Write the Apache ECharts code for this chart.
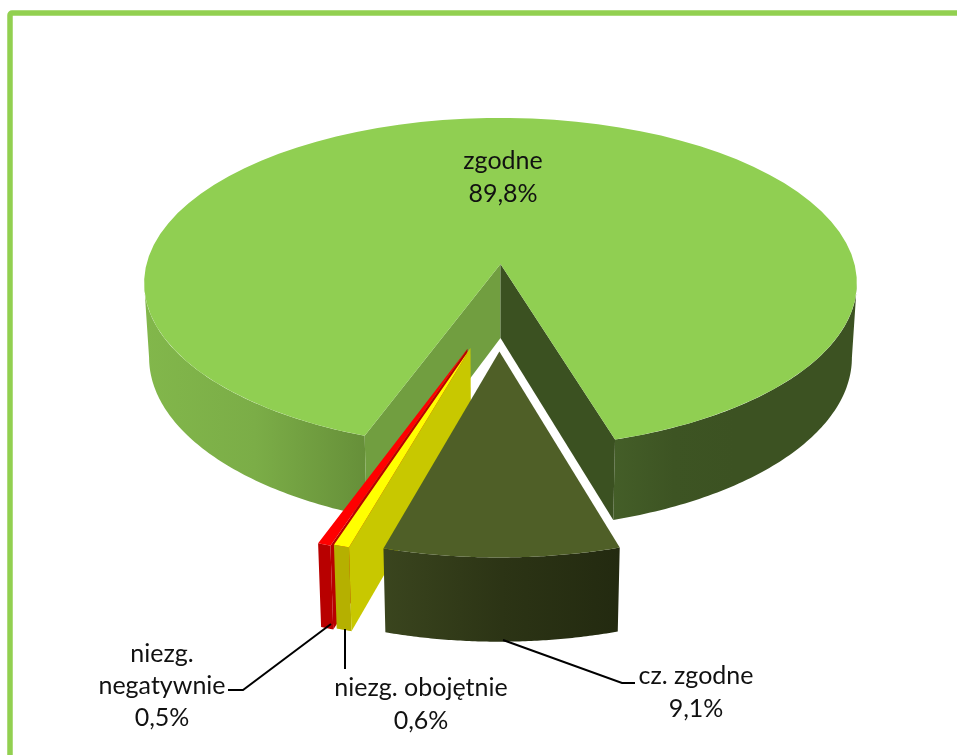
<!DOCTYPE html>
<html>
<head>
<meta charset="utf-8">
<title>zgodne</title>
<style>
html, body { margin: 0; padding: 0; background: #fff; }
#chart { width: 957px; height: 755px; }
</style>
<script src="https://cdn.jsdelivr.net/npm/echarts@6/dist/echarts.min.js"></script>
</head>
<body>
<div id="chart"></div>
<script>
var categories = ['zgodne', 'cz. zgodne', 'niezg. obojętnie', 'niezg. negatywnie'];
var percentValues = [89.8, 9.1, 0.6, 0.5];

// perspective of the disc, fitted on the picture
var CX = 500.5, CY = 264, RX = 354, RY = 163, DEPTH = 75;
var PERSP = 0.1157, PERSP_Z = 0.014;
var START_ANGLE = 200;

function grad(stops) {
    return new echarts.graphic.LinearGradient(0, 0, 1, 0, stops.map(function (c, i) {
        return { offset: i / (stops.length - 1), color: c };
    }));
}

// per slice look: order, exploded offset, wall colours
var sliceLook = [
    {
        order: 1, offset: [0, 0], radius: 1, top: '#90cf52',
        cutStart: '#719e40', cutEnd: '#3b5121',
        walls: [
            // the wall stops where the rim turns away from the viewer
            { from: 0, to: 63.4, fill: function () { return grad(['#82b74b', '#7bad47', '#668f39']); } },
            { from: -66.7, to: 0, end: true, fill: function () { return grad(['#445e28', '#3d5423', '#3c5222', '#3c5222', '#3c5222']); } }
        ]
    },
    {
        order: 4, offset: [-0.003, 0.505], radius: 0.985, top: '#4f5f27',
        walls: [{ all: true, fill: function () { return grad(['#3a451e', '#2c3415', '#232a10']); } }]
    },
    {
        order: 3, offset: [-0.08, 0.486], radius: 1, top: '#ffff00', cutStart: '#c8c800',
        walls: [{ all: true, fill: function () { return '#b5b000'; } }]
    },
    {
        order: 2, offset: [-0.088, 0.49], radius: 1, top: '#ff0000', cutStart: '#b80000',
        walls: [{ all: true, fill: function () { return '#b80000'; } }]
    }
];

var labelLook = [
    { x: 503, y: 161, line: 33, lines: ['zgodne'] },
    { x: 696, y: 676, line: 33, lines: ['cz. zgodne'] },
    { x: 421, y: 688, line: 33, lines: ['niezg. obojętnie'] },
    { x: 162, y: 654, line: 32, lines: ['niezg.', 'negatywnie'] }
];
var leaders = [
    null,
    [[503, 640], [622, 683], [635, 683]],
    [[345, 629], [345, 669]],
    [[331, 624], [243, 690], [228, 690]]
];

function project(u, v, z) {
    var w = 1 - PERSP * v + PERSP_Z * z;
    return [CX + RX * u / w, CY + (RY * v + DEPTH * z) / w];
}

function rim(deg, look, z) {
    var a = deg * Math.PI / 180;
    return project(look.radius * Math.sin(a) + look.offset[0], -look.radius * Math.cos(a) + look.offset[1], z);
}

function arc(a0, a1, look, z) {
    var pts = [], n = 80;
    for (var i = 0; i <= n; i++) {
        pts.push(rim(a0 + (a1 - a0) * i / n, look, z));
    }
    return pts;
}

function poly(points, fill, z2) {
    return { type: 'polygon', z2: z2, shape: { points: points }, style: { fill: fill } };
}

function renderSlice(params) {
    var idx = params.dataIndex;
    var look = sliceLook[idx];
    var before = 0;
    for (var i = 0; i < idx; i++) before += percentValues[i];
    var a0 = START_ANGLE + before * 3.6;
    var a1 = a0 + percentValues[idx] * 3.6;
    var z2 = look.order * 100;
    var kids = [];
    var apexTop = project(look.offset[0], look.offset[1], 0);
    var apexBottom = project(look.offset[0], look.offset[1], 1);

    look.walls.forEach(function (wall) {
        var from = wall.all ? a0 : (wall.end ? a1 + wall.from : a0 + wall.from);
        var to = wall.all ? a1 : (wall.end ? a1 : a0 + wall.to);
        var topEdge = arc(from, to, look, 0);
        var bottomEdge = arc(from, to, look, 1).reverse();
        kids.push(poly(topEdge.concat(bottomEdge), wall.fill(), z2++));
    });
    if (look.cutStart) {
        kids.push(poly([apexTop, rim(a0, look, 0), rim(a0, look, 1), apexBottom], look.cutStart, z2++));
    }
    if (look.cutEnd) {
        kids.push(poly([apexTop, rim(a1, look, 0), rim(a1, look, 1), apexBottom], look.cutEnd, z2++));
    }
    kids.push(poly([apexTop].concat(arc(a0, a1, look, 0)), look.top, z2++));
    return { type: 'group', children: kids };
}

function percentText(v) {
    return v.toFixed(1).replace('.', ',') + '%';
}

var graphics = [{
    type: 'rect', z: 0,
    shape: { x: 10, y: 13, width: 1000, height: 800, r: 2 },
    style: { fill: '#fff', stroke: '#92d050', lineWidth: 5.5 }
}];

labelLook.forEach(function (lab, i) {
    lab.lines.concat([percentText(percentValues[i])]).forEach(function (txt, j) {
        graphics.push({
            type: 'text', z: 20, x: lab.x, y: lab.y + j * lab.line,
            style: {
                text: txt, fill: '#111', font: '25px Lato',
                textAlign: 'center', textVerticalAlign: 'middle'
            }
        });
    });
    if (leaders[i]) {
        graphics.push({
            type: 'polyline', z: 20,
            shape: { points: leaders[i] },
            style: { stroke: '#000', lineWidth: 2, fill: null }
        });
    }
});

var myChart = echarts.init(document.getElementById('chart'), null, { renderer: 'canvas' });
myChart.setOption({
    backgroundColor: '#fff',
    animation: false,
    graphic: graphics,
    series: [{
        type: 'custom',
        coordinateSystem: 'none',
        silent: true,
        z: 10,
        renderItem: renderSlice,
        data: percentValues.map(function (v, i) {
            return { name: categories[i], value: v };
        })
    }]
});
window.onresize = function () {
    myChart.resize();
};
</script>
</body>
</html>
